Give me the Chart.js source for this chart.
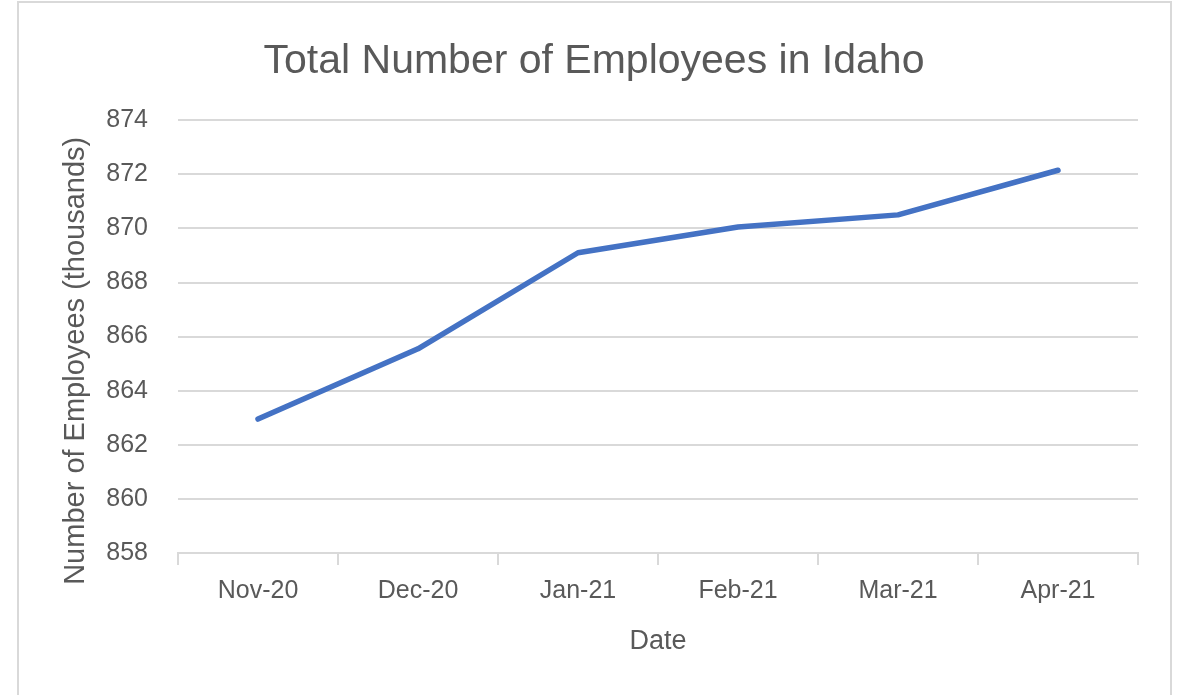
<!DOCTYPE html>
<html lang="en">
<head>
    <meta charset="UTF-8">
    <title>Total Number of Employees in Idaho</title>
    <script src="https://cdn.jsdelivr.net/npm/chart.js"></script>
    <style>
        html, body { margin: 0; padding: 0; background: #fff; overflow: hidden; }
        #frame {
            position: absolute; left: 17px; top: 1px;
            width: 1151px; height: 740px;
            border: 2px solid #d9d9d9;
        }
        #chart { position: absolute; left: 0; top: 0; }
    </style>
</head>
<body>
    <div id="frame"></div>
    <canvas id="chart" width="1180" height="695"></canvas>

    <script>
        // data
        var months = ['Nov-20', 'Dec-20', 'Jan-21', 'Feb-21', 'Mar-21', 'Apr-21'];
        var employees = [862.95, 865.55, 869.1, 870.05, 870.5, 872.15];
        var yMin = 858;
        var yMax = 874;
        var yStep = 2;

        var textColor = '#595959';
        var gridColor = '#d9d9d9';
        var fontName = '"Liberation Sans", Arial, sans-serif';

        var ctx = document.getElementById('chart').getContext('2d');

        var chart = new Chart(ctx, {
            type: 'line',
            data: {
                labels: months,
                datasets: [{
                    label: 'Employees',
                    data: employees,
                    borderColor: '#4472c4',
                    borderWidth: 5.5,
                    borderCapStyle: 'round',
                    borderJoinStyle: 'round',
                    pointRadius: 0,
                    tension: 0,
                    fill: false
                }]
            },
            options: {
                responsive: false,
                animation: false,
                devicePixelRatio: 1,
                layout: {
                    padding: { left: 50, right: 42, top: 0, bottom: 0 }
                },
                plugins: {
                    legend: { display: false },
                    tooltip: { enabled: false },
                    title: {
                        display: true,
                        text: 'Total Number of Employees in Idaho',
                        color: textColor,
                        font: { family: fontName, size: 41, weight: 'normal' },
                        padding: { top: 37, bottom: 34 }
                    }
                },
                scales: {
                    x: {
                        offset: true,
                        grid: {
                            offset: true,
                            drawOnChartArea: false,
                            drawTicks: true,
                            tickLength: 12,
                            color: gridColor,
                            lineWidth: 2
                        },
                        border: { display: true, color: gridColor, width: 2 },
                        ticks: {
                            color: textColor,
                            padding: 11,
                            font: { family: fontName, size: 25 }
                        },
                        title: {
                            display: true,
                            text: 'Date',
                            color: textColor,
                            font: { family: fontName, size: 27 },
                            padding: { top: 0, bottom: 37 }
                        },
                        afterFit: function (scale) {
                            scale.height = 142;
                        }
                    },
                    y: {
                        min: yMin,
                        max: yMax,
                        grid: {
                            color: gridColor,
                            lineWidth: 2,
                            drawTicks: false
                        },
                        border: { display: false },
                        ticks: {
                            stepSize: yStep,
                            color: textColor,
                            padding: 30,
                            font: { family: fontName, size: 25 }
                        },
                        title: {
                            display: true,
                            // trailing spaces push the text down, as in the original
                            text: 'Number of Employees (thousands)      ',
                            color: textColor,
                            font: { family: fontName, size: 29 },
                            padding: { top: 9, bottom: 0 }
                        },
                        afterFit: function (scale) {
                            scale.width = 128;
                        }
                    }
                }
            }
        });
    </script>
</body>
</html>
